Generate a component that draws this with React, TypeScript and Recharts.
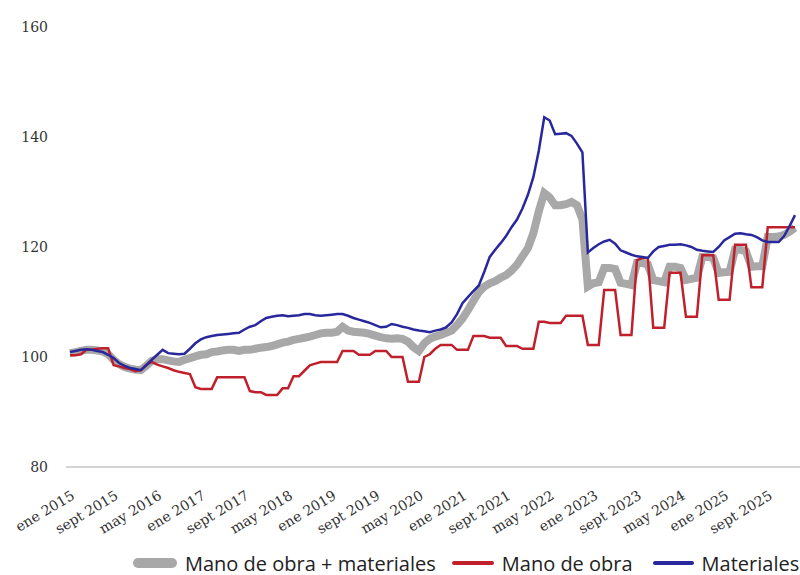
import { LineChart, Line, XAxis, YAxis, Legend } from 'recharts'

// Índice de costes de construcción, base 2015 = 100, mensual ene 2015 – feb 2026
const monthNames = ['ene', 'feb', 'mar', 'abr', 'may', 'jun', 'jul', 'ago', 'sept', 'oct', 'nov', 'dic']
const years = [2015, 2016, 2017, 2018, 2019, 2020, 2021, 2022, 2023, 2024, 2025, 2026]

const total = [
  100.7, 100.9, 101.1, 101.3, 101.3, 101.2, 101.0, 100.5, 99.5, 98.7, 98.2, 97.9,
  97.7, 97.6, 98.4, 99.3, 99.6, 99.6, 99.4, 99.2, 99.1, 99.5, 99.8, 100.1,
  100.4, 100.5, 100.9, 101.0, 101.2, 101.3, 101.3, 101.1, 101.3, 101.3, 101.5, 101.7,
  101.8, 102.0, 102.3, 102.6, 102.8, 103.1, 103.3, 103.5, 103.7, 104.0, 104.3, 104.4,
  104.4, 104.6, 105.5, 104.8, 104.6, 104.5, 104.4, 104.2, 103.9, 103.6, 103.4, 103.3,
  103.4, 103.3, 102.8, 101.8, 101.1, 102.5, 103.3, 103.7, 104.0, 104.4, 104.8, 105.8,
  107.0, 108.5, 110.2, 111.8, 112.8, 113.4, 113.8, 114.4, 114.9, 115.7, 116.8, 118.3,
  119.8, 122.5, 126.5, 129.8, 129.0, 127.6, 127.6, 127.8, 128.2, 127.6, 125.0, 112.8,
  113.4, 113.6, 116.2, 116.2, 116.0, 113.5, 113.3, 113.1, 117.1, 117.1, 116.8, 114.0,
  113.8, 113.6, 116.4, 116.4, 116.2, 114.0, 114.2, 114.4, 118.2, 118.2, 118.0, 115.3,
  115.4, 115.5, 119.5, 119.5, 119.2, 116.4, 116.5, 116.5, 121.8, 121.8, 121.9, 122.2,
  122.8, 123.5,
]

const labor = [
  100.3, 100.3, 100.5, 101.3, 101.3, 101.5, 101.6, 101.6, 98.5, 98.3, 98.0, 97.8,
  97.4, 97.6, 98.6, 99.1, 98.6, 98.3, 98.0, 97.6, 97.3, 97.1, 96.9, 94.5,
  94.2, 94.2, 94.2, 96.3, 96.3, 96.3, 96.3, 96.3, 96.3, 93.8, 93.6, 93.6,
  93.1, 93.1, 93.1, 94.3, 94.3, 96.5, 96.5, 97.5, 98.5, 98.8, 99.1, 99.1,
  99.1, 99.1, 101.1, 101.1, 101.1, 100.4, 100.4, 100.4, 101.1, 101.1, 101.1, 100.0,
  100.0, 100.0, 95.5, 95.5, 95.5, 100.0, 100.5, 101.5, 102.2, 102.2, 102.2, 101.3,
  101.3, 101.3, 103.8, 103.8, 103.8, 103.5, 103.5, 103.5, 102.0, 102.0, 102.0, 101.5,
  101.5, 101.5, 106.4, 106.4, 106.2, 106.2, 106.2, 107.5, 107.5, 107.5, 107.5, 102.2,
  102.2, 102.2, 112.2, 112.2, 112.2, 104.0, 104.0, 104.0, 117.6, 118.0, 118.0, 105.3,
  105.3, 105.3, 115.3, 115.3, 115.3, 107.3, 107.3, 107.3, 118.5, 118.5, 118.5, 110.4,
  110.4, 110.4, 120.4, 120.4, 120.4, 112.7, 112.7, 112.7, 123.6, 123.6, 123.6, 123.6,
  123.6, 123.6,
]

const materials = [
  100.9, 101.1, 101.3, 101.4, 101.3, 101.1, 100.9, 100.4, 99.8, 98.9, 98.4, 98.0,
  97.8, 97.6, 98.5, 99.5, 100.4, 101.3, 100.7, 100.6, 100.5, 100.6, 101.5, 102.5,
  103.2, 103.6, 103.8, 104.0, 104.1, 104.2, 104.3, 104.4, 105.0, 105.5, 105.8, 106.5,
  107.1, 107.3, 107.5, 107.6, 107.4, 107.5, 107.6, 107.8, 107.8, 107.6, 107.5, 107.6,
  107.7, 107.8, 107.8, 107.5, 107.1, 106.8, 106.5, 106.2, 105.8, 105.4, 105.5, 106.0,
  105.8, 105.5, 105.3, 105.0, 104.8, 104.7, 104.5, 104.8, 105.0, 105.4, 106.3, 107.8,
  109.8, 110.9, 112.0, 113.0, 115.5, 118.2, 119.5, 120.7, 122.0, 123.6, 125.0, 127.0,
  129.5, 132.7, 137.5, 143.6, 143.0, 140.5, 140.6, 140.7, 140.2, 138.8, 137.2, 119.0,
  119.8, 120.5, 121.0, 121.3, 120.6, 119.4, 119.0, 118.6, 118.3, 118.2, 118.0, 119.2,
  120.0, 120.2, 120.4, 120.4, 120.5, 120.3, 120.0, 119.5, 119.3, 119.2, 119.1, 120.0,
  121.2, 121.8, 122.4, 122.5, 122.3, 122.2, 121.8, 121.2, 120.9, 120.9, 120.9, 122.0,
  123.8, 125.8,
]

const yTicks = [80, 100, 120, 140, 160]
const legendOrder = ['total', 'labor', 'materials']

const categories = years.flatMap((y) => monthNames.map((m) => `${m} ${y}`)).slice(0, total.length)

const data = categories.map((name, i) => ({
  name,
  total: total[i],
  labor: labor[i],
  materials: materials[i],
}))

const serif = "'DejaVu Serif', serif"
const swatch: Record<string, { w: number; h: number; gap: number }> = {
  total: { w: 44, h: 10, gap: 16 },
  labor: { w: 42, h: 4, gap: 20 },
  materials: { w: 41, h: 4, gap: 0 },
}

// eslint-disable-next-line @typescript-eslint/no-explicit-any
function AngledTick({ x, y, payload }: any) {
  return (
    <g transform={`translate(${x + 3},${y + 19})`}>
      <text
        textAnchor="end"
        transform="rotate(-31)"
        dy="0.35em"
        fill="#333"
        style={{ fontFamily: serif, fontSize: 14 }}
      >
        {payload.value}
      </text>
    </g>
  )
}

// eslint-disable-next-line @typescript-eslint/no-explicit-any
function YTick({ x, y, payload }: any) {
  return (
    <text x={x} y={y} dy="0.35em" textAnchor="end" fill="#333" style={{ fontFamily: serif, fontSize: 14 }}>
      {payload.value}
    </text>
  )
}

// eslint-disable-next-line @typescript-eslint/no-explicit-any
function LegendRow({ payload }: any) {
  const items = [...(payload || [])].sort(
    (a: any, b: any) => legendOrder.indexOf(a.dataKey) - legendOrder.indexOf(b.dataKey),
  )
  return (
    <div
      style={{
        display: 'flex',
        alignItems: 'center',
        height: 24,
        paddingLeft: 133,
        fontFamily: "'Open Sans', sans-serif",
        fontSize: 20,
        color: '#222',
      }}
    >
      {items.map((p: any) => {
        const s = swatch[p.dataKey]
        return (
          <div key={p.dataKey} style={{ display: 'flex', alignItems: 'center', marginRight: s.gap }}>
            <span
              style={{
                display: 'inline-block',
                width: s.w,
                height: s.h,
                borderRadius: s.h / 2,
                background: p.color,
                marginRight: 8,
              }}
            />
            <span style={{ whiteSpace: 'nowrap' }}>{p.value}</span>
          </div>
        )
      })}
    </div>
  )
}

export default function App() {
  return (
    <div style={{ position: 'absolute', left: 0, top: 0, background: '#fff' }}>
      <LineChart width={800} height={575} data={data} margin={{ top: 27, right: 0, left: 0, bottom: 0 }}>
        <XAxis
          dataKey="name"
          interval={7}
          height={84}
          padding={{ left: 4, right: 5 }}
          axisLine={{ stroke: '#c6c6c6', strokeWidth: 1.5 }}
          tickLine={false}
          tick={<AngledTick />}
        />
        <YAxis
          domain={[80, 160]}
          ticks={yTicks}
          width={66}
          axisLine={false}
          tickLine={false}
          tickMargin={12}
          tick={<YTick />}
        />
        <Legend verticalAlign="bottom" height={24} content={<LegendRow />} wrapperStyle={{ left: 0, width: 800 }} />
        <Line
          dataKey="total"
          name="Mano de obra + materiales"
          type="linear"
          stroke="#a8a8a8"
          strokeWidth={8}
          dot={false}
          isAnimationActive={false}
        />
        <Line
          dataKey="labor"
          name="Mano de obra"
          type="linear"
          stroke="#c0202b"
          strokeWidth={2.5}
          dot={false}
          isAnimationActive={false}
        />
        <Line
          dataKey="materials"
          name="Materiales"
          type="linear"
          stroke="#28289c"
          strokeWidth={2.5}
          dot={false}
          isAnimationActive={false}
        />
      </LineChart>
    </div>
  )
}
